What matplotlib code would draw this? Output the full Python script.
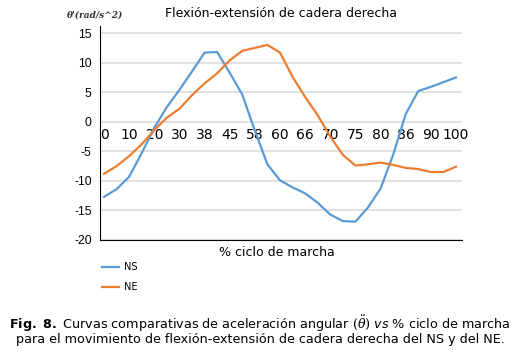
import numpy as np
import matplotlib
matplotlib.use("Agg")
import matplotlib.pyplot as plt

plt.rcParams['mathtext.fontset'] = 'custom'
plt.rcParams['mathtext.rm'] = 'DejaVu Serif'
plt.rcParams['mathtext.it'] = 'DejaVu Serif:italic'
plt.rcParams['mathtext.bf'] = 'DejaVu Sans:bold'
plt.rcParams['mathtext.sf'] = 'DejaVu Sans:italic'
plt.rcParams['axes.unicode_minus'] = False

# Data (29 samples along the gait cycle; labels shown every 2nd sample)
tick_labels = ['0', '10', '20', '30', '38', '45', '58', '60', '66', '70', '75', '80', '86', '90', '100']
ns_values = [-12.7, -11.4, -9.3, -5.3, -1.0, 2.5, 5.4, 8.5, 11.7, 11.8, 8.3, 4.6, -1.5, -7.2, -9.9,
             -11.1, -12.1, -13.7, -15.7, -16.8, -16.9, -14.5, -11.3, -5.6, 1.3, 5.2, 5.9, 6.7, 7.5]
ne_values = [-8.8, -7.5, -5.8, -3.8, -1.4, 0.7, 2.2, 4.5, 6.5, 8.2, 10.4, 12.0, 12.5, 13.0, 11.7,
             7.6, 4.2, 1.1, -2.5, -5.6, -7.4, -7.2, -6.9, -7.3, -7.8, -8.0, -8.5, -8.5, -7.6]
series_names = ['NS', 'NE']
colors = ['#5b9bd5', '#ed7d31']

W, H = 521, 353
fig = plt.figure(figsize=(W / 100, H / 100), dpi=100)
ax = fig.add_axes([100 / W, 1 - 240 / H, 362 / W, 214 / H])

x = np.arange(len(ns_values))
for vals, name, c in zip([ns_values, ne_values], series_names, colors):
    ax.plot(x, vals, color=c, lw=1.6, label=name, solid_joinstyle='round')

ax.set_xlim(-0.32, 28.48)
ax.set_ylim(-20, 16.2)
ax.set_yticks(range(-20, 16, 5))
ax.yaxis.grid(True, color='#d9d9d9', lw=1.1)
ax.set_axisbelow(True)

ax.set_xticks(x[::2])
ax.set_xticklabels(tick_labels, fontsize=6.5, family='DejaVu Sans')
ax.spines['bottom'].set_position(('data', 0))
ax.spines['bottom'].set_visible(False)
ax.spines['top'].set_position(('data', -20))
ax.spines['top'].set_color('black')
ax.spines['right'].set_visible(False)
ax.spines['left'].set_color('black')
ax.tick_params(axis='x', length=0, pad=4.8)
ax.tick_params(axis='y', length=0, pad=6)
for t in ax.get_yticklabels():
    t.set_fontsize(8.7)
    t.set_family('Liberation Sans')

fig.text(281 / W, 1 - 13.5 / H, 'Flexión-extensión de cadera derecha', ha='center', va='center',
         fontsize=9, family='DejaVu Sans')
fig.text(67 / W, 1 - 15.5 / H, "θ'(rad/s^2)", ha='left', va='center', fontsize=6.5,
         family='DejaVu Serif', weight='bold', style='italic', color='#333333')
fig.text(277 / W, 1 - 253 / H, '% ciclo de marcha', ha='center', va='center', fontsize=9,
         family='DejaVu Sans')

fig.legend(loc='upper left', bbox_to_anchor=(102 / W, 1 - 262 / H), frameon=False, borderpad=0,
           borderaxespad=0, handlelength=1.75, handletextpad=0.5, labelspacing=1.06,
           prop={'family': 'DejaVu Sans', 'size': 7})

caption = (r"$\mathbf{Fig.\ 8.}$ Curvas comparativas de aceleración angular $(\ddot{\theta})$ $\mathsf{vs}$ % ciclo de marcha"
           "\npara el movimiento de flexión-extensión de cadera derecha del NS y del NE.")
fig.text(260 / W, 1 - 346 / H, caption, ha='center', va='bottom', multialignment='center',
         fontsize=9.2, family='DejaVu Sans', linespacing=0.92)

fig.savefig('out.png', dpi=100)
